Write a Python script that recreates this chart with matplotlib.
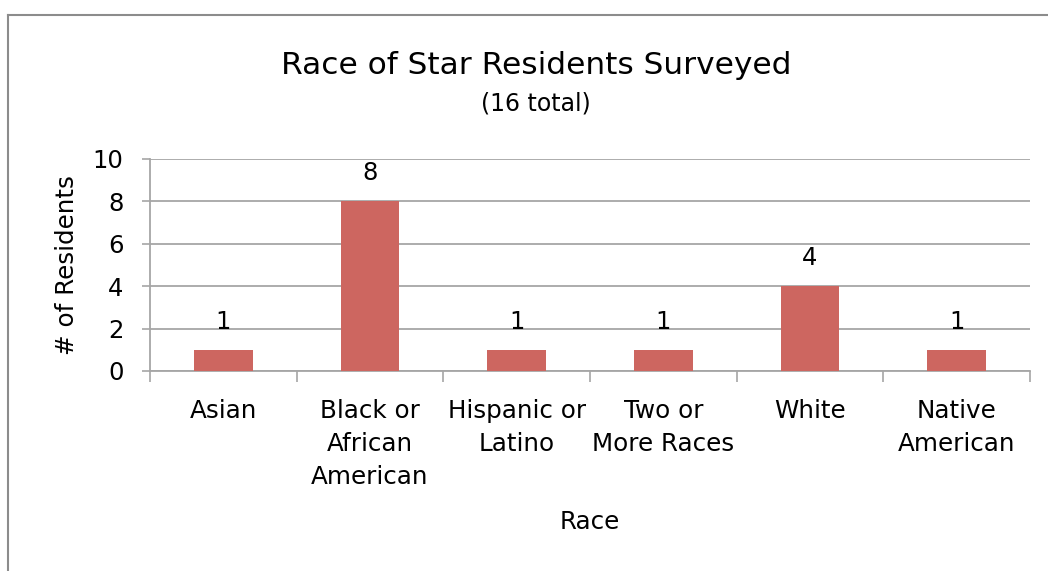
import matplotlib.pyplot as plt
from matplotlib.lines import Line2D
from matplotlib.ticker import FixedLocator

categories = ['Asian', 'Black or\nAfrican\nAmerican', 'Hispanic or\nLatino',
              'Two or\nMore Races', 'White', 'Native\nAmerican']
counts = [1, 8, 1, 1, 4, 1]
y_ticks = [0, 2, 4, 6, 8, 10]

grid_col = '#a6a6a6'
bar_col = '#cd6660'

fig = plt.figure(figsize=(10.48, 5.71), dpi=100)
ax = fig.add_axes([150 / 1048, 1 - 371 / 571, 880 / 1048, 212 / 571])

x = list(range(len(categories)))
bars = ax.bar(x, counts, width=0.4, color=bar_col, zorder=3)
for xi, v in zip(x, counts):
    ax.annotate(str(v), (xi, v), xytext=(0, 11.5), textcoords='offset points',
                ha='center', va='bottom', fontsize=17.5)

ax.set_xlim(-0.5, len(categories) - 0.5)
ax.set_ylim(0, 10)
ax.set_yticks(y_ticks)
ax.tick_params(axis='y', labelsize=17.5, length=6, width=1.2, color=grid_col, pad=13)

# category boundaries as major ticks, labels on minor ticks at centres
ax.xaxis.set_major_locator(FixedLocator([i - 0.5 for i in range(len(categories) + 1)]))
ax.xaxis.set_major_formatter(plt.NullFormatter())
ax.xaxis.set_minor_locator(FixedLocator(x))
ax.set_xticklabels(categories, minor=True, fontsize=17.7, linespacing=1.48)
ax.tick_params(axis='x', which='major', length=8, width=1.2, color=grid_col)
ax.tick_params(axis='x', which='minor', length=0, pad=20)

ax.grid(axis='y', color=grid_col, linewidth=1.3, zorder=0)
for s in ['top', 'right']:
    ax.spines[s].set_visible(False)
for s in ['left', 'bottom']:
    ax.spines[s].set_color(grid_col)
    ax.spines[s].set_linewidth(1.3)

ax.set_ylabel('# of Residents', fontsize=17.7, labelpad=10)
ax.set_xlabel('Race', fontsize=17.7, labelpad=15)

fig.text(536 / 1048, 1 - 66 / 571, 'Race of Star Residents Surveyed',
         ha='center', va='center', fontsize=22.5)
fig.text(536 / 1048, 1 - 103 / 571, '(16 total)', ha='center', va='center', fontsize=17)

# outer chart border (only left and top visible in crop)
fig.add_artist(Line2D([8 / 1048, 8 / 1048], [0, 1 - 15 / 571], color='#8c8c8c', lw=1.5))
fig.add_artist(Line2D([8 / 1048, 1], [1 - 15 / 571, 1 - 15 / 571], color='#8c8c8c', lw=1.5))

fig.savefig('out.png', dpi=100)
